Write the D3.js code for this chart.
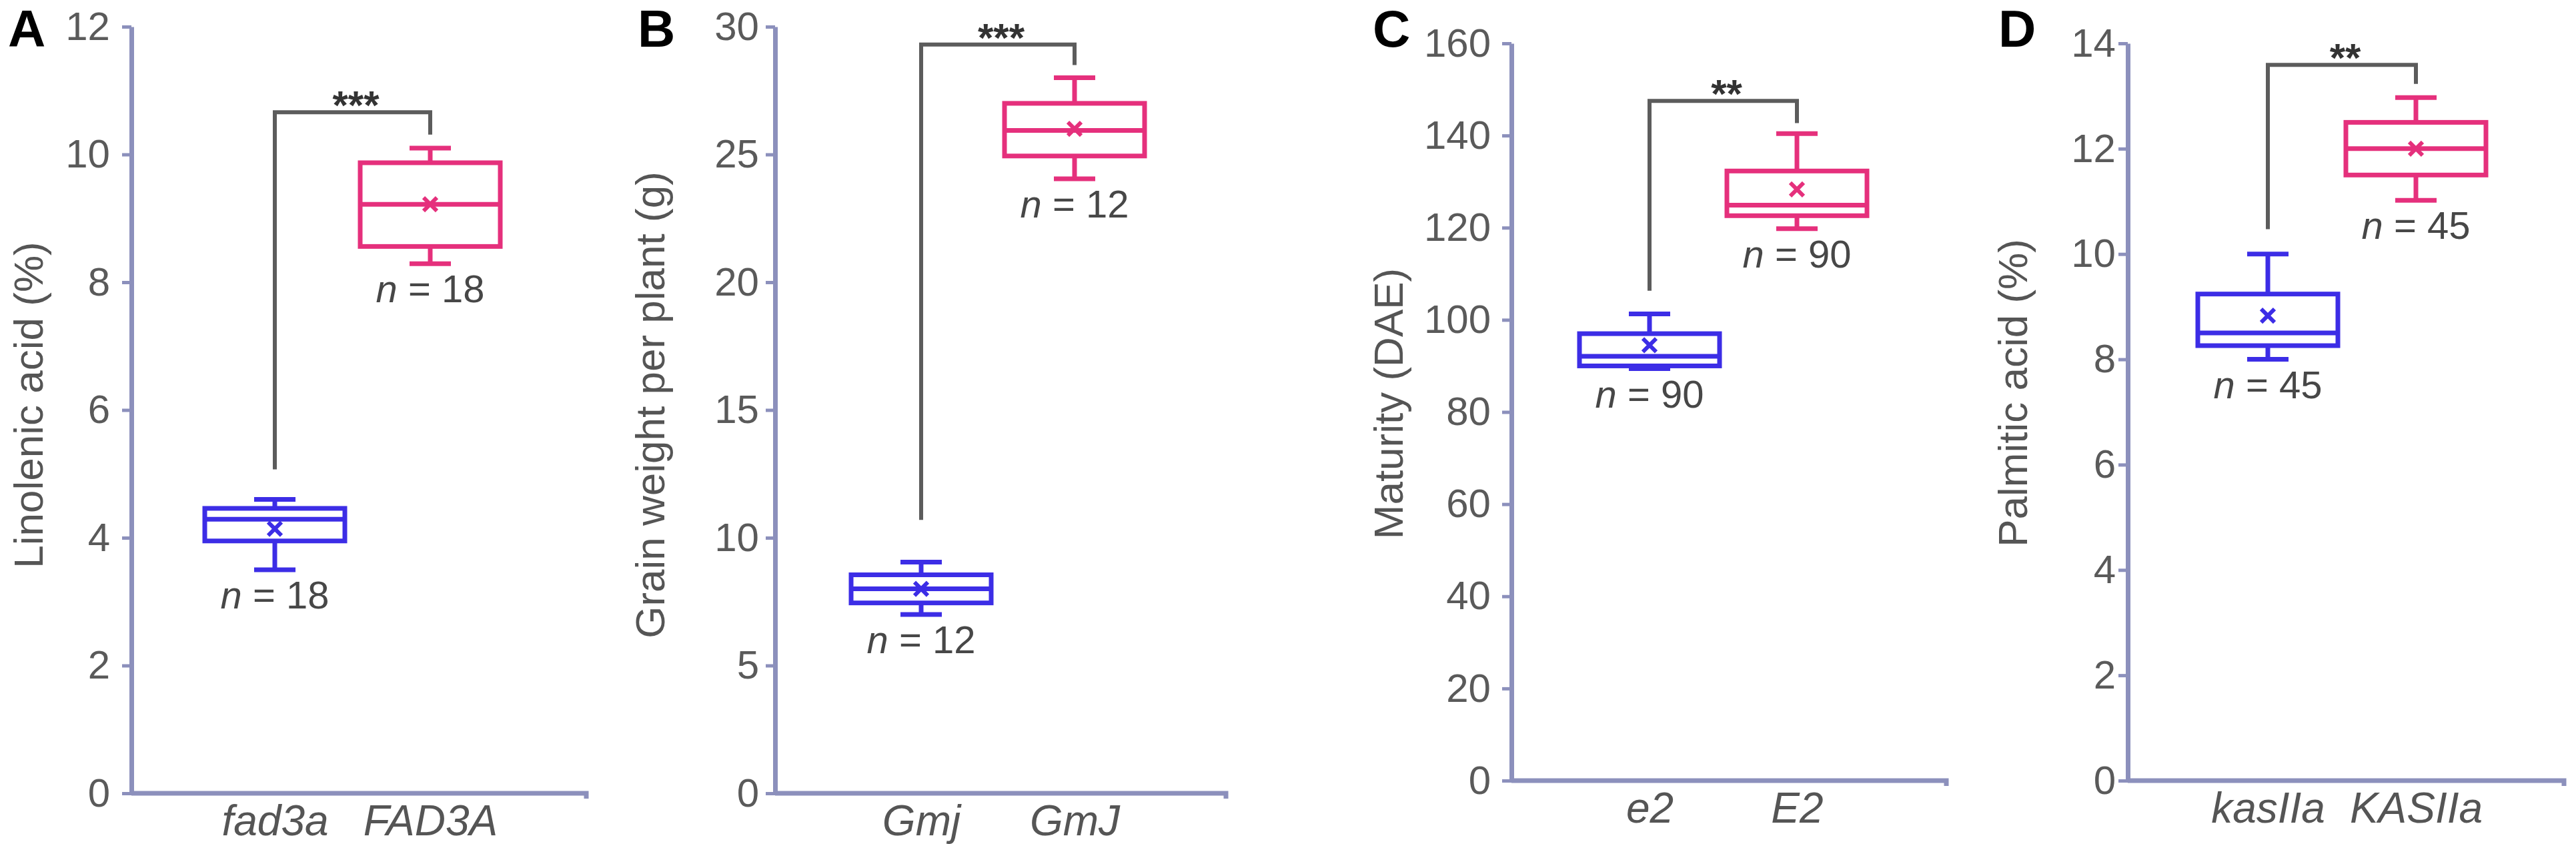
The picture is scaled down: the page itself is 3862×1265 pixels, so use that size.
<!DOCTYPE html>
<html>
<head>
<meta charset="utf-8">
<script src="https://cdn.jsdelivr.net/npm/d3@7"></script>
<style>
  body { margin: 0; background: #fff; }
  svg text { font-family: "Liberation Sans", Arial, sans-serif; }
</style>
</head>
<body>
<svg id="chart"></svg>
<script>
// Data
var panelNames = ['A', 'B', 'C', 'D'];
var yTitles = ['Linolenic acid (%)', 'Grain weight per plant (g)', 'Maturity (DAE)', 'Palmitic acid (%)'];
var categories = [['fad3a', 'FAD3A'], ['Gmj', 'GmJ'], ['e2', 'E2'], ['kasIIa', 'KASIIa']];
var yMax = [12, 30, 160, 14];
var yStep = [2, 5, 20, 2];

var lowWhisker  = [[3.5, 8.29], [7.0, 24.05], [89.4, 119.8], [8.0, 11.02]];
var q1Values    = [[3.95, 8.56], [7.45, 24.94], [90.0, 122.6], [8.26, 11.5]];
var medians     = [[4.29, 9.22], [8.0, 25.94], [92.1, 124.9], [8.5, 12.0]];
var q3Values    = [[4.46, 9.87], [8.55, 27.0], [97.0, 132.3], [9.24, 12.5]];
var highWhisker = [[4.6, 10.1], [9.05, 28.0], [101.3, 140.4], [10.0, 12.97]];
var means       = [[4.14, 9.22], [8.0, 26.0], [94.5, 128.3], [8.83, 12.0]];
var sampleSizes = [[18, 18], [12, 12], [90, 90], [45, 45]];

// significance brackets: lower ends (left, right), top level, stars
var bracketEnds = [[5.07, 10.31], [10.7, 28.5], [106.3, 142.7], [10.47, 13.23]];
var bracketTop = [10.66, 29.3, 147.5, 13.59];
var stars = ['***', '***', '**', '**'];

// Layout of each panel (pixels)
var layout = [
  {axisX: 197,  right: 879,  c1: 412,  c2: 645,  y0: 1189, yTop: 40, pad: 18, labelX: 12,   titleX: 64,   titleY: 607},
  {axisX: 1162, right: 1838, c1: 1381, c2: 1611, y0: 1189, yTop: 40, pad: 10, labelX: 956,  titleX: 996,  titleY: 607},
  {axisX: 2266, right: 2918, c1: 2473, c2: 2694, y0: 1170, yTop: 65, pad: 17, labelX: 2058, titleX: 2103, titleY: 605},
  {axisX: 3190, right: 3844, c1: 3400, c2: 3622, y0: 1170, yTop: 65, pad: 4,  labelX: 2996, titleX: 3039, titleY: 589}
];

var boxColors = ['#3c2de6', '#e5307c'];
var axisColor = '#8c90bc';
var font = '"Liberation Sans", Arial, sans-serif';
var boxWidth = 210, capWidth = 62, lw = 7;

var svg = d3.select('#chart')
  .attr('width', 3862)
  .attr('height', 1265);

panelNames.forEach(function (name, i) {
  var L = layout[i];
  var g = svg.append('g');

  var y = d3.scaleLinear().domain([0, yMax[i]]).range([L.y0, L.yTop]);
  var x = d3.scalePoint().domain(categories[i]).range([L.c1, L.c2]);

  // Y axis
  var yAxis = d3.axisLeft(y)
    .tickValues(d3.range(0, yMax[i] + yStep[i] / 2, yStep[i]))
    .tickSize(14)
    .tickSizeOuter(0)
    .tickPadding(L.pad);
  g.append('g')
    .attr('transform', `translate(${L.axisX},0)`)
    .call(yAxis)
    .attr('font-size', 60)
    .attr('font-family', font)
    .call(a => a.select('.domain').attr('stroke', axisColor).attr('stroke-width', 7))
    .call(a => a.selectAll('.tick line').attr('stroke', axisColor).attr('stroke-width', 5))
    .call(a => a.selectAll('.tick text').attr('fill', '#5a5a5a'));

  // X baseline
  g.append('path')
    .attr('d', `M${L.axisX},${y(0)}H${L.right}v8`)
    .attr('fill', 'none')
    .attr('stroke', axisColor)
    .attr('stroke-width', 7);

  // Category labels
  var xAxis = d3.axisBottom(x).tickSize(0).tickPadding(18);
  g.append('g')
    .attr('transform', `translate(0,${y(0)})`)
    .call(xAxis)
    .attr('font-size', 64)
    .attr('font-family', font)
    .call(a => a.select('.domain').remove())
    .call(a => a.selectAll('.tick text').attr('fill', '#555').attr('font-style', 'italic'));

  // Box data
  var rows = categories[i].map(function (c, j) {
    return {
      cat: c, color: boxColors[j],
      lo: lowWhisker[i][j], q1: q1Values[i][j], med: medians[i][j],
      q3: q3Values[i][j], hi: highWhisker[i][j], mean: means[i][j], n: sampleSizes[i][j]
    };
  });

  var boxes = g.selectAll('.box')
    .data(rows)
    .enter()
    .append('g')
    .attr('class', 'box')
    .attr('stroke', d => d.color)
    .attr('stroke-width', lw)
    .attr('fill', 'none');

  // whisker stems
  boxes.append('line')
    .attr('x1', d => x(d.cat)).attr('x2', d => x(d.cat))
    .attr('y1', d => y(d.lo)).attr('y2', d => y(d.q1));
  boxes.append('line')
    .attr('x1', d => x(d.cat)).attr('x2', d => x(d.cat))
    .attr('y1', d => y(d.q3)).attr('y2', d => y(d.hi));

  // caps
  boxes.append('line')
    .attr('x1', d => x(d.cat) - capWidth / 2).attr('x2', d => x(d.cat) + capWidth / 2)
    .attr('y1', d => y(d.lo)).attr('y2', d => y(d.lo));
  boxes.append('line')
    .attr('x1', d => x(d.cat) - capWidth / 2).attr('x2', d => x(d.cat) + capWidth / 2)
    .attr('y1', d => y(d.hi)).attr('y2', d => y(d.hi));

  // box
  boxes.append('rect')
    .attr('x', d => x(d.cat) - boxWidth / 2)
    .attr('width', boxWidth)
    .attr('y', d => y(d.q3))
    .attr('height', d => y(d.q1) - y(d.q3))
    .attr('fill', '#fff');

  // median
  boxes.append('line')
    .attr('x1', d => x(d.cat) - boxWidth / 2).attr('x2', d => x(d.cat) + boxWidth / 2)
    .attr('y1', d => y(d.med)).attr('y2', d => y(d.med));

  // mean marker (x)
  boxes.append('path')
    .attr('d', function (d) {
      var cx = x(d.cat), cy = y(d.mean), s = 10;
      return `M${cx - s},${cy - s}L${cx + s},${cy + s}M${cx - s},${cy + s}L${cx + s},${cy - s}`;
    })
    .attr('stroke-width', 6);

  // n labels
  var nText = g.selectAll('.nlabel')
    .data(rows)
    .enter()
    .append('text')
    .attr('class', 'nlabel')
    .attr('x', d => x(d.cat))
    .attr('y', d => y(d.lo) + 58)
    .attr('text-anchor', 'middle')
    .attr('font-size', 58)
    .attr('fill', '#474747');
  nText.append('tspan').attr('font-style', 'italic').text('n');
  nText.append('tspan').text(d => ` = ${d.n}`);

  // significance bracket
  var bx1 = x(categories[i][0]), bx2 = x(categories[i][1]);
  g.append('path')
    .attr('d', `M${bx1},${y(bracketEnds[i][0])}V${y(bracketTop[i])}H${bx2}V${y(bracketEnds[i][1])}`)
    .attr('fill', 'none')
    .attr('stroke', '#5c5c5c')
    .attr('stroke-width', 6);

  g.append('text')
    .attr('x', (bx1 + bx2) / 2 + 5)
    .attr('y', y(bracketTop[i]) + 10)
    .attr('text-anchor', 'middle')
    .attr('font-size', 60)
    .attr('font-weight', 'bold')
    .attr('fill', '#333')
    .text(stars[i]);

  // y title
  g.append('text')
    .attr('transform', `translate(${L.titleX},${L.titleY}) rotate(-90)`)
    .attr('text-anchor', 'middle')
    .attr('font-size', 62)
    .attr('fill', '#555')
    .text(yTitles[i]);

  // panel letter
  g.append('text')
    .attr('x', L.labelX)
    .attr('y', 70)
    .attr('font-size', 78)
    .attr('font-weight', 'bold')
    .attr('fill', '#000')
    .text(name);
});
</script>
</body>
</html>
